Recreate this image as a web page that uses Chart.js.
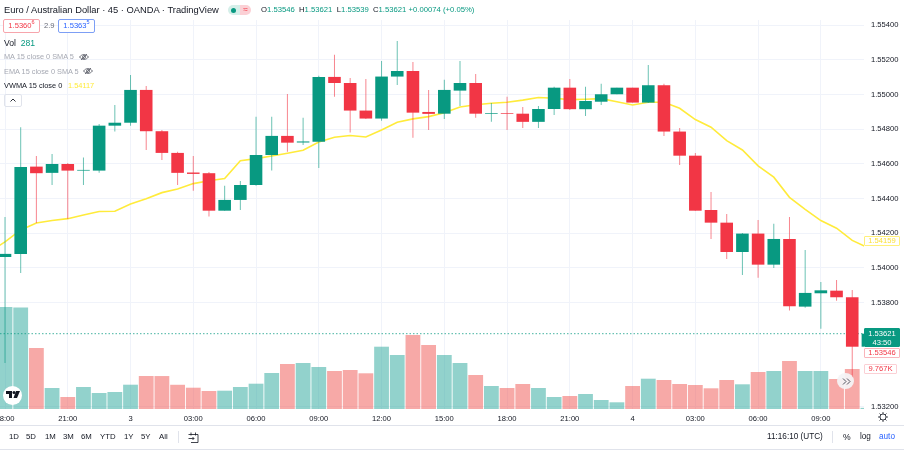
<!DOCTYPE html>
<html>
<head>
<meta charset="utf-8">
<script src="https://cdn.jsdelivr.net/npm/chart.js@4"></script>
<style>
  html, body { margin: 0; padding: 0; background: #fff; }
  #wrap { position: relative; width: 904px; height: 450px; overflow: hidden;
          font-family: "Liberation Sans", sans-serif; color: #131722; }
  #wrap div, #wrap span.abs { position: absolute; white-space: nowrap; }
  canvas { position: absolute; left: 0; top: 0; }
  .t { font-size: 8.6px; line-height: 10px; }
  .g { color: #089981; }
  .grey { color: #a6a9b3; }
  .box { background: #fff; border: 1px solid; border-radius: 2px; text-align: center; box-sizing: border-box; font-size: 7.6px; }
  .tag { left: 864px; width: 36px; text-align: center; box-sizing: border-box; font-size: 7.6px; background: #fff; border: 1px solid; border-radius: 1px; }
  sup { font-size: 5.5px; line-height: 0; }
  .rng { top: 432px; font-size: 7.8px; line-height: 10px; }
</style>
</head>
<body>
<div id="wrap">
  <canvas id="chart" width="904" height="450"></canvas>

  <div class="t" style="left:4px;top:5px;font-size:9.35px">Euro / Australian Dollar · 45 · OANDA · TradingView</div>
  <div style="left:228px;top:5px;width:12px;height:10px;background:#d5efe9;border-radius:5px 0 0 5px"></div>
  <div style="left:240px;top:5px;width:11px;height:10px;background:#fbd0d5;border-radius:0 5px 5px 0;color:#f23645;font-size:8px;line-height:9px;text-align:center">≈</div>
  <div style="left:231px;top:7.5px;width:5px;height:5px;background:#089981;border-radius:50%"></div>
  <div class="t" style="left:261px;top:5px;font-size:7.7px">O<span class="g">1.53546</span>&nbsp; H<span class="g">1.53621</span>&nbsp; L<span class="g">1.53539</span>&nbsp; C<span class="g">1.53621 +0.00074 (+0.05%)</span></div>

  <div class="box" style="left:3px;top:19px;width:37px;height:14px;border-color:#f7a5ac;color:#f23645;line-height:12px">1.5360<sup>6</sup></div>
  <div class="t" style="left:44px;top:21px;font-size:7.6px;color:#6a6d78">2.9</div>
  <div class="box" style="left:58px;top:19px;width:37px;height:14px;border-color:#7d9ff5;color:#2962ff;line-height:12px">1.5363<sup>5</sup></div>

  <div class="t" style="left:4px;top:38px">Vol&nbsp; <span class="g">281</span></div>
  <div class="t grey" style="left:4px;top:52px;font-size:7.35px">MA 15 close 0 SMA 5</div>
  <div class="t grey" style="left:4px;top:67px;font-size:7.35px">EMA 15 close 0 SMA 5</div>
  <div class="t" style="left:4px;top:81px;font-size:7.4px">VWMA 15 close 0</div>
  <div class="t" style="left:68px;top:81px;font-size:7.4px;color:#ffeb3b">1.54117</div>
  <svg style="position:absolute;left:79px;top:53px" width="10" height="8" viewBox="0 0 10 8" fill="none" stroke="#50535e" stroke-width=".8"><path d="M.5 4C3 .8 7 .8 9.5 4 7 7.2 3 7.2.5 4Z"/><circle cx="5" cy="4" r="1.5"/><path d="M2 7 8 1"/></svg>
  <svg style="position:absolute;left:83px;top:67px" width="10" height="8" viewBox="0 0 10 8" fill="none" stroke="#50535e" stroke-width=".8"><path d="M.5 4C3 .8 7 .8 9.5 4 7 7.2 3 7.2.5 4Z"/><circle cx="5" cy="4" r="1.5"/><path d="M2 7 8 1"/></svg>
  <div style="left:4px;top:94px;width:18px;height:13px;border:1px solid #e0e3eb;border-radius:2px;box-sizing:border-box"></div>
  <svg style="position:absolute;left:10px;top:98px" width="6" height="4" viewBox="0 0 6 4" fill="none" stroke="#131722" stroke-width=".9"><path d="M.5 3.5 3 1 5.500 3.500"/></svg>

  <div style="left:3px;top:386px;width:19px;height:19px;background:#fff;border-radius:50%"></div>
  <svg style="position:absolute;left:6px;top:391px" width="14" height="8" viewBox="0 0 14 8" fill="#131722"><path d="M0 0H6V7H3V3H0Z"/><circle cx="8" cy="1.500" r="1.500"/><path d="M10 0H14L11 7H7.500Z"/></svg>
  <div style="left:837px;top:373px;width:17px;height:16px;background:#f4f4f6;border-radius:50%;opacity:.93"></div>
  <svg style="position:absolute;left:842px;top:378px" width="9" height="7" viewBox="0 0 9 7" fill="none" stroke="#50535e" stroke-width="1"><path d="M1 .5 4 3.500 1 6.500M5 .5 8 3.500 5 6.500"/></svg>

  <div class="tag" style="top:236px;height:10px;line-height:8px;border-color:#fff07a;color:#fbe13a">1.54159</div>
  <div class="tag" style="top:328px;height:19px;background:#089981;border-color:#089981;color:#fff;line-height:9px">1.53621<br>43:50</div>
  <div class="tag" style="top:348px;height:10px;line-height:8px;border-color:#f9b5bb;color:#f23645">1.53546</div>
  <div class="tag" style="top:364px;height:10px;line-height:8px;width:33px;border-color:#fbd0d5;color:#f23645">9.767K</div>

  <div style="left:0;top:425px;width:904px;height:1px;background:#e0e3eb"></div>
  <div style="left:0;top:449px;width:904px;height:1px;background:#e0e3eb"></div>
  <div class="rng" style="left:9px">1D</div>
  <div class="rng" style="left:26px">5D</div>
  <div class="rng" style="left:45px">1M</div>
  <div class="rng" style="left:63px">3M</div>
  <div class="rng" style="left:81px">6M</div>
  <div class="rng" style="left:100px">YTD</div>
  <div class="rng" style="left:124px">1Y</div>
  <div class="rng" style="left:141px">5Y</div>
  <div class="rng" style="left:159px">All</div>
  <div style="left:178px;top:431px;width:1px;height:12px;background:#e0e3eb"></div>
  <svg style="position:absolute;left:188px;top:432px" width="11" height="11" viewBox="0 0 11 11" fill="none" stroke="#131722" stroke-width=".8"><path d="M.5 2.500H10V10.500H3M3 .5V3.500M7.500 .5V3.500M.5 6.500H6M4.500 5 6 6.500 4.500 8"/></svg>
  <div class="rng" style="left:767px;font-size:8.2px">11:16:10 (UTC)</div>
  <div style="left:832px;top:431px;width:1px;height:12px;background:#e0e3eb"></div>
  <div class="rng" style="left:843px;font-size:8.6px">%</div>
  <div class="rng" style="left:860px;font-size:8.2px">log</div>
  <div class="rng" style="left:879px;font-size:8.2px;color:#2962ff">auto</div>
  <svg style="position:absolute;left:878px;top:412px" width="10" height="10" viewBox="0 0 10 10" fill="none" stroke="#131722" stroke-width=".8"><circle cx="5" cy="5" r="3"/><path d="M5 0V2M5 8V10M0 5H2M8 5H10M1.500 1.500 2.900 2.900M7.100 7.100 8.500 8.500M8.500 1.500 7.100 2.900M2.900 7.100 1.500 8.500"/></svg>
</div>

<script>
// 45 minute bars, the first one sits just off the left edge
const opens = [1.54075,
  1.54063, 1.54081, 1.54584, 1.54548, 1.54599, 1.54561, 1.54561, 1.54820, 1.54837, 1.55026,
  1.54788, 1.54663, 1.54550, 1.54546, 1.54330, 1.54392, 1.54478, 1.54651, 1.54761, 1.54723,
  1.54728, 1.55101, 1.55066, 1.54907, 1.54861, 1.55103, 1.55135, 1.54899, 1.54889, 1.55022,
  1.55066, 1.54889, 1.54893, 1.54889, 1.54842, 1.54916, 1.55039, 1.54915, 1.54958, 1.55001,
  1.55039, 1.54953, 1.55053, 1.54786, 1.54647, 1.54334, 1.54261, 1.54092, 1.54198, 1.54019,
  1.54167, 1.53777, 1.53854, 1.53869, 1.53831, 1.53546];
const highs = [1.54120,
  1.54294, 1.54811, 1.54645, 1.54657, 1.54605, 1.54636, 1.54830, 1.54939, 1.55112, 1.55049,
  1.54795, 1.54669, 1.54645, 1.54553, 1.54473, 1.54501, 1.54872, 1.54872, 1.55003, 1.54865,
  1.55107, 1.55228, 1.55095, 1.55089, 1.55193, 1.55308, 1.55187, 1.55026, 1.55084, 1.55193,
  1.55118, 1.54951, 1.54986, 1.54928, 1.54934, 1.55044, 1.55089, 1.55045, 1.55061, 1.55039,
  1.55039, 1.55170, 1.55061, 1.54807, 1.54663, 1.54438, 1.54311, 1.54202, 1.54277, 1.54254,
  1.54294, 1.54104, 1.53919, 1.53931, 1.53873, 1.53621];
const lows = [1.54020,
  1.53452, 1.53971, 1.54259, 1.54478, 1.54282, 1.54478, 1.54548, 1.54786, 1.54820, 1.54680,
  1.54622, 1.54478, 1.54445, 1.54296, 1.54329, 1.54334, 1.54473, 1.54561, 1.54669, 1.54709,
  1.54576, 1.54987, 1.54780, 1.54859, 1.54849, 1.55055, 1.54751, 1.54795, 1.54859, 1.54934,
  1.54865, 1.54842, 1.54795, 1.54807, 1.54807, 1.54882, 1.54911, 1.54876, 1.54939, 1.55001,
  1.54953, 1.54951, 1.54761, 1.54594, 1.54329, 1.54167, 1.54052, 1.53960, 1.53944, 1.54000,
  1.53754, 1.53771, 1.53650, 1.53811, 1.53366, 1.53539];
const closes = [1.54063,
  1.54081, 1.54582, 1.54546, 1.54599, 1.54561, 1.54565, 1.54820, 1.54837, 1.55026, 1.54788,
  1.54663, 1.54548, 1.54542, 1.54330, 1.54392, 1.54478, 1.54651, 1.54761, 1.54722, 1.54729,
  1.55101, 1.55066, 1.54907, 1.54861, 1.55103, 1.55135, 1.54895, 1.54888, 1.55026, 1.55066,
  1.54889, 1.54893, 1.54889, 1.54842, 1.54916, 1.55039, 1.54915, 1.54962, 1.55001, 1.55039,
  1.54953, 1.55053, 1.54786, 1.54647, 1.54330, 1.54261, 1.54092, 1.54198, 1.54019, 1.54167,
  1.53779, 1.53856, 1.53871, 1.53831, 1.53546, 1.53621];
const volumes = [23000,
  24888, 24766, 14884, 5124, 2928, 5368, 3904, 4148, 5929, 8052,
  8040, 5910, 5197, 4392, 4465, 5368, 6173, 8784, 10980, 11224,
  10248, 9272, 9516, 8711, 15201, 13176, 18056, 15616, 13176, 11224,
  8296, 5612, 5124, 6100, 5124, 2928, 3172, 3660, 2196, 1635,
  5612, 7393, 7076, 6100, 5856, 5051, 7076, 6027, 9028, 9272,
  11712, 9272, 9272, 7320, 9767, 281];
const vwma = [1.54092,
  1.54150, 1.54219, 1.54259, 1.54273, 1.54284, 1.54305, 1.54325, 1.54327, 1.54369, 1.54399,
  1.54434, 1.54455, 1.54486, 1.54503, 1.54515, 1.54618, 1.54630, 1.54645, 1.54661, 1.54678,
  1.54726, 1.54753, 1.54763, 1.54755, 1.54795, 1.54840, 1.54859, 1.54872, 1.54895, 1.54928,
  1.54941, 1.54949, 1.54955, 1.54967, 1.54982, 1.54978, 1.54970, 1.54972, 1.54976, 1.54958,
  1.54939, 1.54955, 1.54955, 1.54920, 1.54855, 1.54811, 1.54734, 1.54680, 1.54588, 1.54523,
  1.54407, 1.54338, 1.54273, 1.54229, 1.54159, 1.54117];
const lastPrice = 1.53621;
const priceTicks = [1.554, 1.552, 1.55, 1.548, 1.546, 1.544, 1.542, 1.54, 1.538, 1.532];
const timeLabels = ['18:00', '21:00', '3', '03:00', '06:00', '09:00', '12:00', '15:00', '18:00', '21:00', '4', '03:00', '06:00', '09:00'];

const GREEN = '#089981';
const RED = '#F23645';
const xMin = 0.681, xMax = 55.75;

const up = closes.map((c, i) => c >= opens[i]);
const points = arr => arr.map((v, i) => ({ x: i, y: v }));

new Chart(document.getElementById('chart').getContext('2d'), {
    data: {
        datasets: [
            {
                type: 'bar', yAxisID: 'vol', order: 5, grouped: false, barThickness: 14.8, inflateAmount: 0,
                data: points(volumes),
                backgroundColor: up.map(u => u ? 'rgba(38,166,154,0.5)' : 'rgba(239,83,80,0.5)')
            },
            {
                type: 'line', yAxisID: 'y', order: 4, pointRadius: 0, borderWidth: 1.6, tension: 0,
                borderColor: '#FFEB3B', data: points(vwma)
            },
            {
                type: 'line', yAxisID: 'y', order: 3, pointRadius: 0, borderWidth: 1, borderDash: [1.5, 2],
                borderColor: 'rgba(8,153,129,0.75)', data: [{ x: xMin, y: lastPrice }, { x: xMax, y: lastPrice }]
            },
            {
                type: 'bar', yAxisID: 'y', order: 2, grouped: false, barThickness: 1, inflateAmount: 0,
                data: lows.map((l, i) => ({ x: i, y: [l, highs[i]] })),
                backgroundColor: up.map(u => u ? 'rgba(8,153,129,0.6)' : 'rgba(242,54,69,0.6)')
            },
            {
                type: 'bar', yAxisID: 'y', order: 1, grouped: false, barThickness: 12.6, inflateAmount: 0,
                data: opens.map((o, i) => ({ x: i, y: [o, closes[i]] })),
                backgroundColor: up.map(u => u ? GREEN : RED)
            }
        ]
    },
    options: {
        responsive: false,
        animation: false,
        events: [],
        layout: { padding: { top: 20, left: 0, right: 0, bottom: 0 } },
        plugins: { legend: { display: false }, tooltip: { enabled: false } },
        scales: {
            x: {
                type: 'linear', min: xMin, max: xMax, offset: false,
                grid: { color: '#f0f3fa', drawTicks: false, offset: false },
                border: { display: false },
                afterBuildTicks: s => { s.ticks = timeLabels.map((_, i) => ({ value: 1 + i * 4 })); },
                afterFit: s => { s.height = 41; s.paddingLeft = 0; s.paddingRight = 0; },
                ticks: {
                    autoSkip: false, maxRotation: 0, padding: 5, color: '#131722',
                    font: { family: 'Liberation Sans', size: 7.6 },
                    callback: (v, i) => timeLabels[i]
                }
            },
            y: {
                position: 'right', min: 1.53187, max: 1.55429,
                grid: { color: '#f0f3fa', drawTicks: false },
                border: { display: false },
                afterBuildTicks: s => { s.ticks = priceTicks.map(v => ({ value: v })); },
                afterFit: s => { s.width = 40; s.paddingTop = 0; s.paddingBottom = 0; },
                ticks: {
                    autoSkip: false, crossAlign: 'near', padding: 7, color: '#131722',
                    font: { family: 'Liberation Sans', size: 7.6 },
                    callback: v => v.toFixed(5)
                }
            },
            vol: { display: false, min: 0, max: 94916 }
        }
    }
});
</script>
</body>
</html>
